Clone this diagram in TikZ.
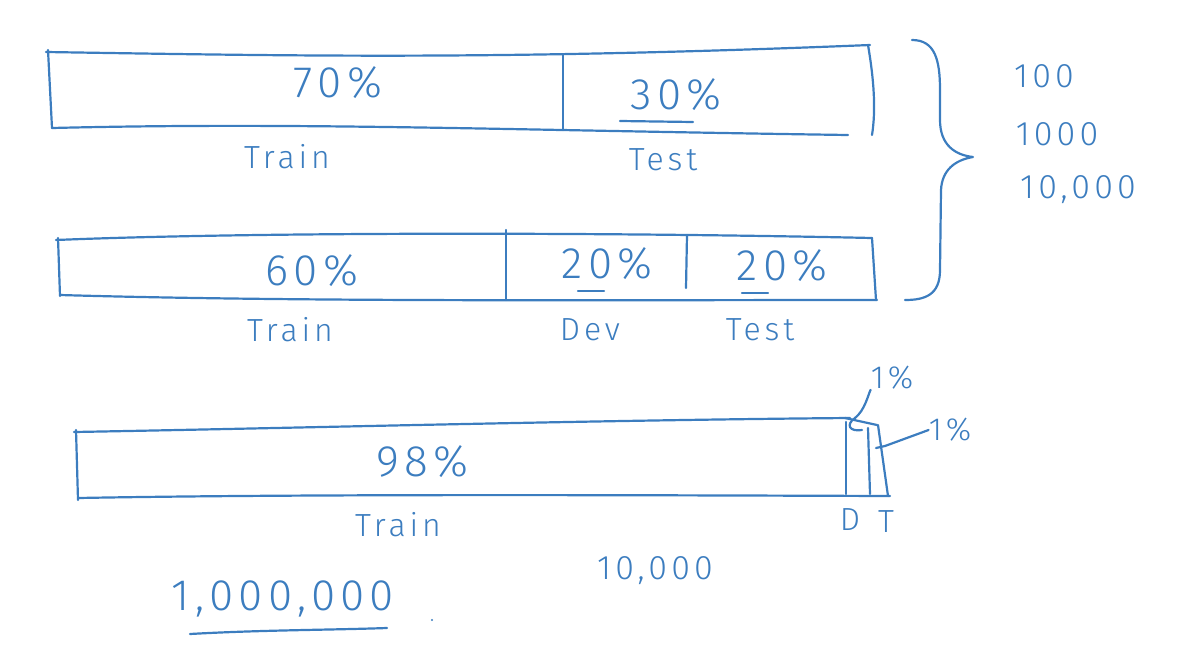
\documentclass[tikz,border=0pt]{standalone}
\usepackage{fontspec}
\setmainfont{Fira Sans Light}
\newfontfamily\hand[LetterSpace=12]{Fira Sans Light}
\definecolor{ink}{HTML}{3C7DBF}
\tikzset{
  pen/.style={draw=ink, line width=2.2pt, line cap=round, line join=round},
  big/.style={text=ink, font=\hand\fontsize{44}{48}\selectfont, inner sep=0pt},
  lab/.style={text=ink, font=\hand\fontsize{32}{36}\selectfont, inner sep=0pt},
  num/.style={text=ink, font=\hand\fontsize{34}{38}\selectfont, inner sep=0pt},
}
\begin{document}
\begin{tikzpicture}[x=1pt,y=-1pt]
\useasboundingbox (0,0) rectangle (1180,664);
% ---- box 1 ----
\draw[pen] (48,50) -- (52,128);
\draw[pen] (46,52) .. controls (300,56) and (500,60) .. (870,45);
\draw[pen] (52,128) .. controls (300,122) and (500,130) .. (848,135);
\draw[pen] (563,55) -- (563,130);
\draw[pen] (868,45) .. controls (874,80) and (876,110) .. (872,135);
\node[big] (p70) at (338,83) {70\%};
\node[big] (p30) at (676,95) {30\%};
\draw[pen] (620,121) -- (693,122);
\node[lab] (tr1) at (287,157) {Train};
\node[lab] (te1) at (663,160) {Test};
% ---- box 2 ----
\draw[pen] (58,238) -- (60,296);
\draw[pen] (56,240) .. controls (250,232) and (600,232) .. (872,238);
\draw[pen] (60,295) .. controls (300,302) and (600,300) .. (877,300);
\draw[pen] (872,238) -- (876,300);
\draw[pen] (506,230) -- (506,300);
\draw[pen] (687,235) -- (686,288);
\node[big] (p60) at (312,271) {60\%};
\node[big] (p20a) at (607,264) {20\%};
\draw[pen] (578,291) -- (604,291);
\node[big] (p20b) at (782,266) {20\%};
\draw[pen] (742,293) -- (768,293);
\node[lab] (tr2) at (290,330) {Train};
\node[lab] (dv2) at (590,330) {Dev};
\node[lab] (te2) at (760,330) {Test};
% ---- brace ----
\draw[pen] (912,40) .. controls (935,40) and (940,60) .. (940,90)
  -- (940,120) .. controls (940,145) and (955,155) .. (973,157)
  .. controls (955,160) and (942,170) .. (941,190)
  -- (940,270) .. controls (940,295) and (925,300) .. (905,300);
\node[num] (n100) at (1044,76) {100};
\node[num] (n1000) at (1057,134) {1000};
\node[num] (n10k) at (1078,190) {10,000};
% ---- box 3 ----
\draw[pen] (76,430) -- (78,500);
\draw[pen] (74,432) .. controls (300,428) and (600,420) .. (850,418);
\draw[pen] (845,418) -- (877,425);
\draw[pen] (78,498) .. controls (300,494) and (600,495) .. (890,496);
\draw[pen] (846,422) -- (846,494);
\draw[pen] (868,428) -- (870,494);
\draw[pen] (878,425) -- (888,496);
\node[big] (p98) at (422,462) {98\%};
\node[lab] (tr3) at (398,525) {Train};
\node[lab] (D) at (850,520) {D};
\node[lab] (T) at (886,522) {T};
\node[lab] (p1a) at (892,378) {1\%};
\node[lab] (p1b) at (950,430) {1\%};
\coordinate (ta) at (862,430);
\coordinate (tb) at (876,448);
\draw[pen] (p1a.south west) .. controls (868,395) and (865,410) .. (855,418)
  .. controls (845,425) and (850,432) .. (ta);
\draw[pen] (p1b.west) -- (885,446) -- (tb);
% ---- bottom ----
\node[num] (n10b) at (655,571) {10,000};
\node[big] (mil) at (283,599) {1,000,000};
\draw[pen] (190,634) .. controls (260,630) and (330,630) .. (387,628);
\fill[ink] (432,620) circle (1.2);
\end{tikzpicture}
\end{document}
